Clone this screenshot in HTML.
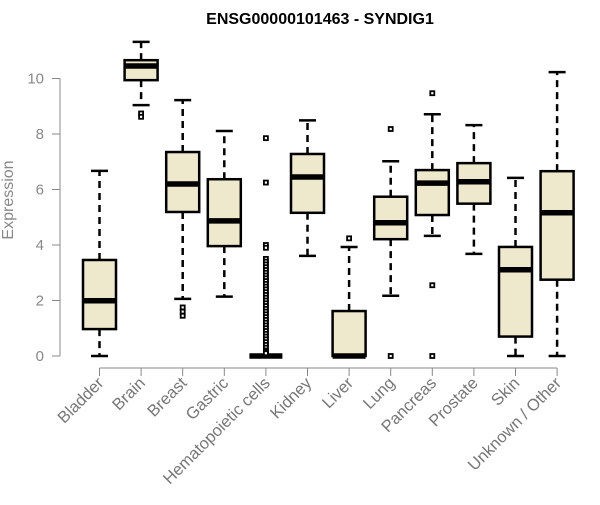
<!DOCTYPE html>
<html><head><meta charset="utf-8"><style>
body{margin:0;background:#fff}
svg text{font-family:"Liberation Sans",Arial,sans-serif}
</style></head><body>
<svg id="chart" width="600" height="500" xmlns="http://www.w3.org/2000/svg">
<text x="320" y="24" text-anchor="middle" font-size="16" font-weight="bold">ENSG00000101463 - SYNDIG1</text>
<text transform="translate(13,200) rotate(-90)" text-anchor="middle" font-size="16" fill="#888">Expression</text>
<g id="yaxis"></g>
<g id="xaxis"></g>
<g id="boxes"></g>
</svg>
<script>
const categories=["Bladder","Brain","Breast","Gastric","Hematopoietic cells","Kidney","Liver","Lung","Pancreas","Prostate","Skin","Unknown / Other"];
const whiskerLow=[0,9.04,2.06,2.14,0,3.61,0,2.17,4.33,3.68,0,0];
const q1=[0.97,9.94,5.19,3.96,0,5.16,0,4.21,5.08,5.49,0.7,2.75];
const medians=[1.99,10.45,6.2,4.87,0,6.45,0,4.8,6.23,6.28,3.11,5.16];
const q3=[3.46,10.66,7.35,6.37,0,7.28,1.62,5.74,6.7,6.95,3.93,6.66];
const whiskerHigh=[6.67,11.32,9.22,8.11,0,8.49,3.93,7.02,8.71,8.32,6.42,10.23];
const outliers=[[],[8.74,8.62],[1.75,1.6,1.45],[],
[7.85,6.25,4.0,3.9,3.5,3.4,3.3,3.2,3.1,3.0,2.9,2.8,2.7,2.6,2.5,2.4,2.3,2.2,2.1,2.0,1.9,1.8,1.7,1.6,1.5,1.4,1.3,1.2,1.1,1.0,0.9,0.8,0.7,0.6,0.5,0.4,0.3,0.2,0.15,0.1],
[],[4.24],[8.18,0],[9.47,2.55,0],[],[],[]];
const yTicks=[0,2,4,6,8,10];
const NS="http://www.w3.org/2000/svg";
const y=v=>356-v*27.75;
const x=i=>99.5+i*41.6;
function mk(parent,tag,attrs){const e=document.createElementNS(NS,tag);for(const k in attrs)e.setAttribute(k,attrs[k]);parent.appendChild(e);return e;}
const ya=document.getElementById('yaxis'),xa=document.getElementById('xaxis'),bx=document.getElementById('boxes');
mk(ya,'line',{x1:60,x2:60,y1:y(10),y2:y(0),stroke:'#888','stroke-width':1});
yTicks.forEach(t=>{
 const l=mk(ya,'line',{x1:52,x2:60,y1:y(t),y2:y(t),stroke:'#888'});
 
 
 const tx=mk(ya,'text',{x:44,y:y(t)+5,'text-anchor':'end','font-size':15,fill:'#888'});
 
 
 tx.textContent=t;
});
mk(xa,'line',{x1:x(0),x2:x(categories.length-1),y1:368,y2:368,stroke:'#888'});
categories.forEach((c,i)=>{
 const l=mk(xa,'line',{x1:x(i),x2:x(i),y1:368,y2:376,stroke:'#888'});
 
 
 const tx=mk(xa,'text',{transform:`translate(${x(i)+5},${384}) rotate(-45)`,'text-anchor':'end','font-size':16.5,fill:'#777'});
 
 
 tx.textContent=c;
});
categories.forEach((c,i)=>{
 const g=mk(bx,'g',{});
 
 
 const cx=x(i),hw=16.5,cw=8.5;
 mk(g,'line',{x1:cx,x2:cx,y1:y(q3[i]),y2:y(whiskerHigh[i]),stroke:'#000','stroke-width':2.5,'stroke-dasharray':'7,5'});
 mk(g,'line',{x1:cx,x2:cx,y1:y(q1[i]),y2:y(whiskerLow[i]),stroke:'#000','stroke-width':2.5,'stroke-dasharray':'7,5'});
 mk(g,'line',{x1:cx-cw,x2:cx+cw,y1:y(whiskerHigh[i]),y2:y(whiskerHigh[i]),stroke:'#000','stroke-width':2.5});
 mk(g,'line',{x1:cx-cw,x2:cx+cw,y1:y(whiskerLow[i]),y2:y(whiskerLow[i]),stroke:'#000','stroke-width':2.5});
 mk(g,'rect',{x:cx-hw,y:y(q3[i]),width:2*hw,height:Math.max(0,y(q1[i])-y(q3[i])),fill:'#EEE8CD',stroke:'#000','stroke-width':2.5});
 mk(g,'line',{x1:cx-hw,x2:cx+hw,y1:y(medians[i]),y2:y(medians[i]),stroke:'#000','stroke-width':5.5});
 outliers[i].forEach(v=>{
  const r=mk(g,'rect',{x:cx-2,y:y(v)-2,width:4,height:4,fill:'#fff',stroke:'#000','stroke-width':1.8});
  
  
 });
});
</script>
</body></html>
